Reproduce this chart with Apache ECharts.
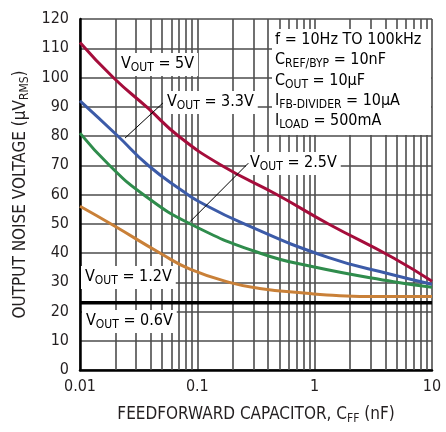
<!DOCTYPE html>
<html>
<head>
<meta charset="utf-8">
<script src="https://cdn.jsdelivr.net/npm/echarts@6/dist/echarts.min.js"></script>
<style>
html,body{margin:0;padding:0;background:#fff;}
#c{width:446px;height:432px;}
</style>
</head>
<body>
<div id="c"></div>
<script>
// ---- data ----
const xTicks = [0.01, 0.1, 1, 10];
const yTicks = [0,10,20,30,40,50,60,70,80,90,100,110,120];

const v5C  = [0.01, 0.0192, 0.038, 0.069, 0.16, 0.475, 1.3, 4.7, 10];
const v5N  = [112, 100, 89.5, 80, 70, 60, 50, 38.3, 30.3];

const v33C = [0.01, 0.021, 0.038, 0.076, 0.102, 0.24, 1.3, 4.7, 10];
const v33N = [92, 80, 70, 61, 57.7, 50.3, 38.5, 32.5, 29.3];

const v25C = [0.01, 0.0178, 0.0346, 0.0865, 0.34, 0.97, 4.7, 10];
const v25N = [81, 70, 60, 50, 40, 35.3, 30.2, 28.3];

const v12C = [0.01, 0.0192, 0.048, 0.0865, 0.203, 0.34, 0.855, 1.27, 3.7, 10];
const v12N = [56, 49.5, 40, 34.5, 29.6, 27.9, 26.2, 25.6, 25.1, 25.1];

const v06C = [0.01, 10];
const v06N = [23, 23];

// arrows: [fromC, fromN, toC, toN]
const arrow33 = [0.0509, 91.3, 0.0242, 79.3];
const arrow25 = [0.272, 70.7, 0.0867, 50.7];

const infoLines = [
  ['f = 10Hz TO 100kHz', '', ''],
  ['C', 'REF/BYP', ' = 10nF'],
  ['C', 'OUT', ' = 10μF'],
  ['I', 'FB-DIVIDER', ' = 10μA'],
  ['I', 'LOAD', ' = 500mA']
];

// ---- chart ----
const FONT = "'Liberation Sans Narrow','DejaVu Sans Condensed','Roboto Condensed',sans-serif";
const GRID = '#4d4d4d';
const TXT = '#231f20';

function pairs(cs, ns){ return cs.map((c,i)=>[c, ns[i]]); }

const minorX = [];
[0.01, 0.1, 1].forEach(d => { for (let k=2;k<=9;k++) minorX.push({xAxis: +(k*d).toPrecision(3)}); });

const richMain = {
  a: {fontSize: 16, fontFamily: FONT, color: TXT, lineHeight: 20},
  s: {fontSize: 12, fontFamily: FONT, color: TXT, lineHeight: 11, verticalAlign: 'bottom'}
};

function vlabel(sub, rest, x, y){
  return {
    type: 'text', z: 100, x: x, y: y,
    style: {
      text: '{a|V}{s|' + sub + '}{a|' + rest + '}',
      rich: richMain,
      backgroundColor: '#fff',
      padding: [1, 4, 2, 4]
    }
  };
}

const graphics = [
  vlabel('OUT', ' = 5V', 117, 53),
  vlabel('OUT', ' = 3.3V', 163, 91),
  vlabel('OUT', ' = 2.5V', 246, 152),
  vlabel('OUT', ' = 1.2V', 81, 266),
  vlabel('OUT', ' = 0.6V', 82, 310),
  {
    type: 'rect', z: 99,
    shape: {x: 272, y: 29, width: 159, height: 106},
    style: {fill: '#fff'}
  }
];
infoLines.forEach((l, i) => {
  const txt = l[1] ? '{a|' + l[0] + '}{s|' + l[1] + '}{a|' + l[2] + '}' : '{a|' + l[0] + '}';
  graphics.push({
    type: 'text', z: 100, x: 275, y: 30 + i * 20.3,
    style: {text: txt, rich: richMain}
  });
});

const chart = echarts.init(document.getElementById('c'), null, {renderer: 'canvas'});

function lineSeries(name, cs, ns, color, width){
  return {
    name: name, type: 'line', data: pairs(cs, ns),
    smooth: 0.5, showSymbol: false, symbol: 'none',
    lineStyle: {color: color, width: width}, z: 5, silent: true
  };
}

const nameRich = {
  a: {fontSize: 17, fontFamily: FONT, color: TXT, lineHeight: 20},
  s: {fontSize: 12, fontFamily: FONT, color: TXT, lineHeight: 11, verticalAlign: 'bottom'}
};

chart.setOption({
  animation: false,
  backgroundColor: '#fff',
  grid: {left: 80, top: 19, right: 14, bottom: 62, containLabel: false},
  xAxis: {
    type: 'log', logBase: 10, min: 0.01, max: 10,
    axisLine: {show: true, onZero: false, lineStyle: {color: '#000', width: 2.5}},
    axisTick: {show: false},
    axisLabel: {
      fontSize: 16, fontFamily: FONT, color: TXT, margin: 9,
      formatter: v => { const t = xTicks.find(x => Math.abs(x - v) / x < 1e-6); return t === undefined ? '' : String(t); }
    },
    splitLine: {show: true, lineStyle: {color: GRID, width: 1.6}},
    name: '{a|FEEDFORWARD CAPACITOR, C}{s|FF}{a| (nF)}',
    nameLocation: 'middle', nameGap: 35,
    nameTextStyle: {rich: nameRich}
  },
  yAxis: {
    type: 'value', min: 0, max: 120, interval: 10,
    axisLine: {show: true, lineStyle: {color: '#000', width: 2.5}},
    axisTick: {show: false},
    axisLabel: {fontSize: 16, fontFamily: FONT, color: TXT, margin: 11,
      formatter: v => yTicks.includes(v) ? String(v) : ''},
    splitLine: {show: true, lineStyle: {color: GRID, width: 1.6}},
    name: '{a|OUTPUT NOISE VOLTAGE (μV}{s|RMS}{a|)}',
    nameLocation: 'middle', nameGap: 46,
    nameTextStyle: {rich: nameRich}
  },
  graphic: graphics,
  series: [
    {
      name: 'minor', type: 'line', data: [], silent: true, z: 1,
      markLine: {
        silent: true, symbol: ['none','none'], label: {show: false},
        lineStyle: {color: GRID, width: 1.6, type: 'solid'},
        emphasis: {disabled: true},
        data: minorX
      }
    },
    lineSeries('VOUT = 0.6V', v06C, v06N, '#000', 3.5),
    lineSeries('VOUT = 1.2V', v12C, v12N, '#c98038', 3),
    lineSeries('VOUT = 2.5V', v25C, v25N, '#2f8c4c', 3),
    lineSeries('VOUT = 3.3V', v33C, v33N, '#3c5ba8', 3),
    lineSeries('VOUT = 5V', v5C, v5N, '#a50d3b', 3),
    {
      name: 'arrows', type: 'line', data: [], silent: true, z: 120, zlevel: 0,
      markLine: {
        silent: true, z: 120, symbol: ['none','arrow'], symbolSize: [0, 9],
        label: {show: false}, emphasis: {disabled: true},
        lineStyle: {color: '#000', width: 1, type: 'solid'},
        data: [
          [{coord: [arrow33[0], arrow33[1]]}, {coord: [arrow33[2], arrow33[3]]}],
          [{coord: [arrow25[0], arrow25[1]]}, {coord: [arrow25[2], arrow25[3]]}]
        ]
      }
    }
  ]
});
</script>
</body>
</html>
